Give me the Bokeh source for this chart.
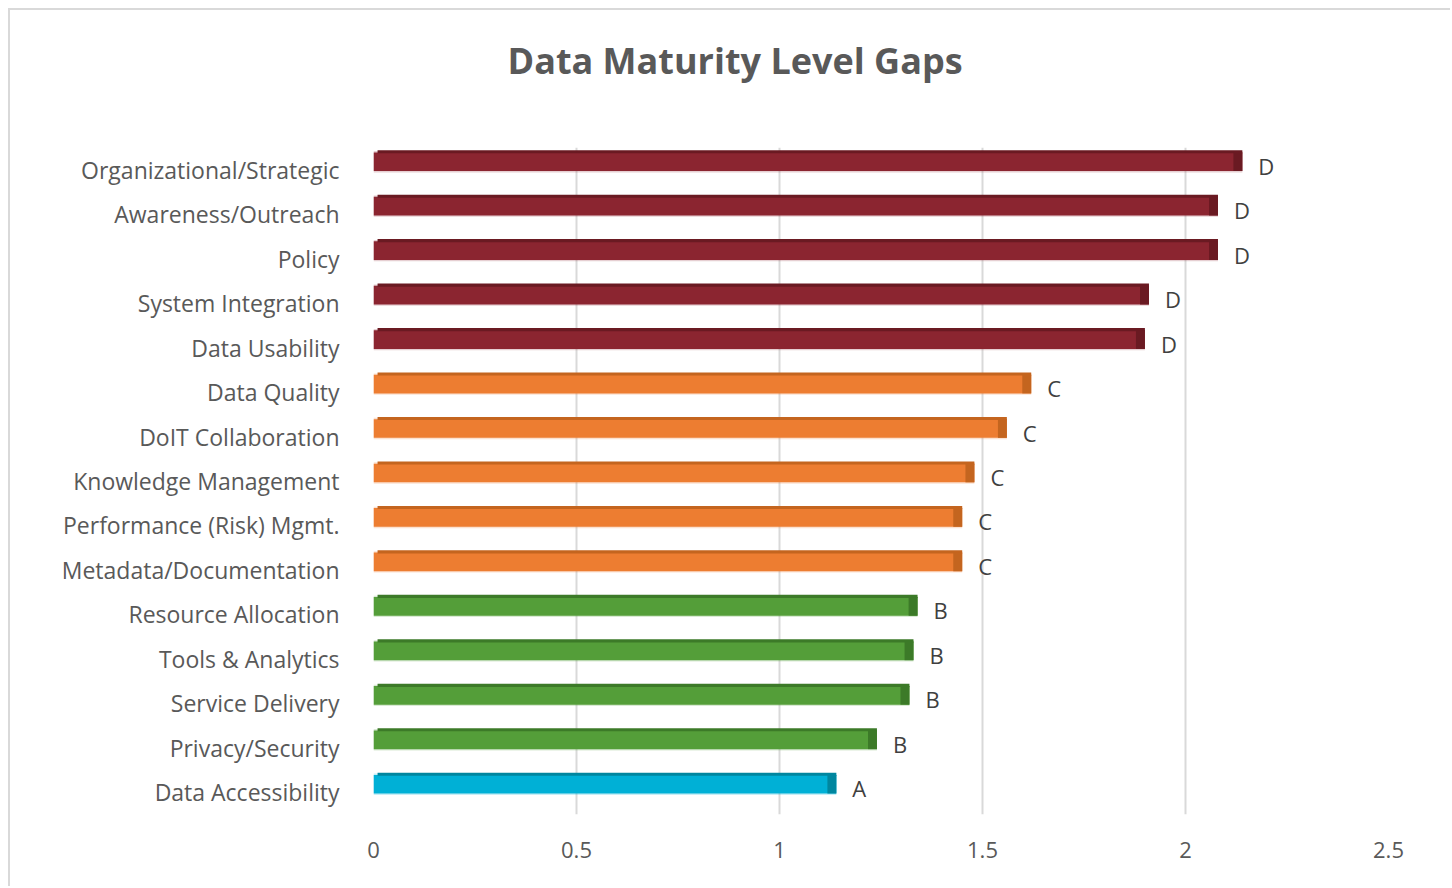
from bokeh.plotting import figure
from bokeh.models import ColumnDataSource, FactorRange, Title, SingleIntervalTicker
from bokeh.transform import dodge
from bokeh.embed import file_html
from bokeh.resources import INLINE
from bokeh.core.properties import value

categories = ["Organizational/Strategic", "Awareness/Outreach", "Policy", "System Integration",
              "Data Usability", "Data Quality", "DoIT Collaboration", "Knowledge Management",
              "Performance (Risk) Mgmt.", "Metadata/Documentation", "Resource Allocation",
              "Tools & Analytics", "Service Delivery", "Privacy/Security", "Data Accessibility"]
gaps = [2.14, 2.08, 2.08, 1.91, 1.90, 1.62, 1.56, 1.48, 1.45, 1.45, 1.34, 1.33, 1.32, 1.24, 1.14]
levels = ["D", "D", "D", "D", "D", "C", "C", "C", "C", "C", "B", "B", "B", "B", "A"]
title_text = "Data Maturity Level Gaps"

main_col = {"D": "#8B2530", "C": "#ED7D31", "B": "#549E39", "A": "#00B0D6"}
dark_col = {"D": "#6A1A22", "C": "#C4651F", "B": "#3C7A28", "A": "#00869F"}

src = ColumnDataSource(dict(
    cat=categories, gap=gaps, lvl=levels,
    col=[main_col[l] for l in levels],
    dark=[dark_col[l] for l in levels],
    cap_left=[g - 0.022 for g in gaps],
))

FONT = "Open Sans"

p = figure(width=1442, height=878, output_backend="svg", toolbar_location=None,
           y_range=FactorRange(*reversed(categories)), x_range=(0, 2.5),
           min_border_left=363, min_border_right=64, min_border_top=137, min_border_bottom=74)
p.styles = {"margin-left": "8px", "margin-top": "8px",
            "border-left": "2px solid #d9d9d9", "border-top": "2px solid #d9d9d9"}

# spacer between the plot area and the title (nearest to the frame)
p.add_layout(Title(text=" ", text_font_size="1px", standoff=60), "above")
# chart title
p.add_layout(Title(text=title_text, align="left", offset=134, vertical_align="bottom",
                   text_font=FONT, text_font_size="36px", text_font_style="bold",
                   text_color="#595959", standoff=0), "above")

p.outline_line_color = None
p.ygrid.grid_line_color = None
p.xgrid.grid_line_color = "#d9d9d9"
p.xgrid.grid_line_width = 2
p.xaxis.ticker = SingleIntervalTicker(interval=0.5)
p.xaxis.axis_line_color = None
p.xaxis.major_tick_line_color = None
p.xaxis.minor_tick_line_color = None
p.xaxis.major_label_standoff = 21
p.xaxis.major_label_text_font = FONT
p.xaxis.major_label_text_font_size = "22px"
p.xaxis.major_label_text_color = "#595959"
p.yaxis.axis_line_color = None
p.yaxis.major_tick_line_color = None
p.yaxis.major_label_standoff = 28
p.yaxis.major_label_text_font = FONT
p.yaxis.major_label_text_font_size = "23px"
p.yaxis.major_label_text_color = "#595959"

bar_y = dodge("cat", 0.18, range=p.y_range)
top_y = dodge("cat", 0.18 + 0.225, range=p.y_range)
lbl_y = dodge("cat", 0.09, range=p.y_range)

# soft halo
p.hbar(y=bar_y, left=0, right="gap", height=0.48, source=src, fill_color="col", fill_alpha=0.22,
       line_color=None)
# front face
p.hbar(y=bar_y, left=0, right="gap", height=0.42, source=src, fill_color="col", line_color=None)
# top face strip
p.hbar(y=top_y, left=0.01, right="gap", height=0.07, source=src, fill_color="dark",
       line_color=None)
# right end cap
p.hbar(y=bar_y, left="cap_left", right="gap", height=0.42, source=src, fill_color="dark",
       line_color=None)

p.text(x="gap", y=lbl_y, text="lvl", source=src, x_offset=16,
       text_font=value(FONT), text_font_size="22px", text_color="#404040",
       text_baseline="middle", text_align="left")

open("out.html", "w").write(file_html(p, INLINE))
